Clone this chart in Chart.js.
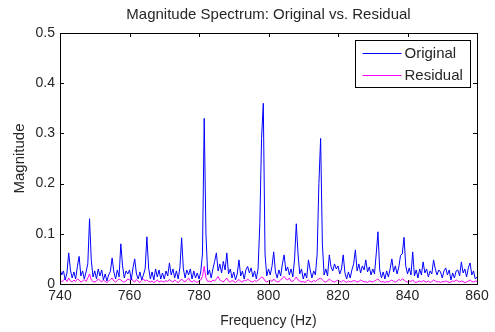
<!DOCTYPE html>
<html>
<head>
<meta charset="utf-8">
<script src="https://cdn.jsdelivr.net/npm/chart.js@4"></script>
<style>
  html, body { margin: 0; padding: 0; background: #fff; }
  #wrap { width: 495px; height: 332px; }
</style>
</head>
<body>
<div id="wrap"><canvas id="spectrum" width="495" height="332"></canvas></div>
<script>
// frequency bins (Hz), 0.5 Hz apart
let freqStart = 740
let freqStep = 0.5
let xTicks = [740, 760, 780, 800, 820, 840, 860]
let yTicks = [0, 0.1, 0.2, 0.3, 0.4, 0.5]
let seriesNames = ["Original", "Residual"]

// magnitude of original signal, one row = 5 Hz
let original = [
  0.030, 0.018, 0.026, 0.008, 0.022, 0.062, 0.028, 0.012, 0.024, 0.010,
  0.035, 0.055, 0.016, 0.026, 0.010, 0.024, 0.040, 0.130, 0.048, 0.014,
  0.026, 0.010, 0.030, 0.016, 0.028, 0.008, 0.020, 0.006, 0.018, 0.025,
  0.052, 0.024, 0.010, 0.028, 0.014, 0.080, 0.036, 0.012, 0.026, 0.020,
  0.028, 0.008, 0.032, 0.050, 0.020, 0.010, 0.024, 0.008, 0.018, 0.030,
  0.094, 0.032, 0.010, 0.024, 0.008, 0.030, 0.014, 0.028, 0.010, 0.022,
  0.010, 0.026, 0.016, 0.042, 0.018, 0.030, 0.012, 0.026, 0.010, 0.032,
  0.092, 0.030, 0.012, 0.028, 0.018, 0.030, 0.010, 0.026, 0.012, 0.022,
  0.010, 0.024, 0.060, 0.330, 0.100, 0.018, 0.028, 0.012, 0.030, 0.045,
  0.062, 0.026, 0.040, 0.022, 0.045, 0.028, 0.062, 0.020, 0.030, 0.012,
  0.024, 0.008, 0.020, 0.048, 0.016, 0.026, 0.010, 0.028, 0.035, 0.022,
  0.032, 0.014, 0.026, 0.010, 0.030, 0.120, 0.290, 0.360, 0.060, 0.016,
  0.030, 0.018, 0.035, 0.064, 0.024, 0.012, 0.028, 0.016, 0.040, 0.058,
  0.026, 0.034, 0.018, 0.030, 0.014, 0.050, 0.120, 0.060, 0.020, 0.030,
  0.010, 0.022, 0.012, 0.048, 0.028, 0.012, 0.026, 0.018, 0.060, 0.200,
  0.290, 0.080, 0.018, 0.030, 0.016, 0.058, 0.034, 0.026, 0.040, 0.030,
  0.036, 0.020, 0.030, 0.058, 0.022, 0.010, 0.024, 0.012, 0.028, 0.040,
  0.068, 0.026, 0.040, 0.022, 0.036, 0.028, 0.048, 0.024, 0.034, 0.018,
  0.030, 0.020, 0.060, 0.104, 0.028, 0.012, 0.024, 0.010, 0.026, 0.014,
  0.030, 0.050, 0.024, 0.036, 0.020, 0.034, 0.057, 0.060, 0.093, 0.036,
  0.020, 0.032, 0.018, 0.064, 0.016, 0.028, 0.012, 0.030, 0.018, 0.044,
  0.022, 0.030, 0.014, 0.026, 0.020, 0.048, 0.030, 0.018, 0.028, 0.024,
  0.012, 0.026, 0.032, 0.018, 0.028, 0.008, 0.022, 0.012, 0.026, 0.028,
  0.016, 0.044, 0.022, 0.030, 0.014, 0.032, 0.042, 0.018, 0.026, 0.010,
  0.014
]

// magnitude of residual
let residual = [
  0.006, 0.004, 0.008, 0.010, 0.005, 0.012, 0.006, 0.004, 0.008, 0.005,
  0.010, 0.008, 0.004, 0.006, 0.009, 0.005, 0.012, 0.020, 0.008, 0.005,
  0.004, 0.006, 0.010, 0.007, 0.004, 0.008, 0.005, 0.003, 0.006, 0.009,
  0.012, 0.006, 0.004, 0.007, 0.010, 0.008, 0.005, 0.004, 0.006, 0.010,
  0.008, 0.012, 0.006, 0.004, 0.009, 0.005, 0.003, 0.007, 0.010, 0.006,
  0.008, 0.005, 0.004, 0.006, 0.003, 0.005, 0.008, 0.004, 0.006, 0.005,
  0.004, 0.007, 0.005, 0.009, 0.006, 0.004, 0.008, 0.005, 0.003, 0.006,
  0.010, 0.006, 0.004, 0.008, 0.012, 0.006, 0.004, 0.007, 0.005, 0.003,
  0.006, 0.008, 0.015, 0.035, 0.012, 0.005, 0.006, 0.004, 0.008, 0.006,
  0.010, 0.015, 0.008, 0.006, 0.004, 0.008, 0.012, 0.006, 0.004, 0.007,
  0.005, 0.003, 0.006, 0.009, 0.005, 0.004, 0.008, 0.006, 0.010, 0.007,
  0.005, 0.004, 0.007, 0.005, 0.008, 0.010, 0.014, 0.012, 0.006, 0.004,
  0.006, 0.008, 0.005, 0.010, 0.006, 0.004, 0.005, 0.008, 0.012, 0.015,
  0.010, 0.008, 0.012, 0.006, 0.005, 0.009, 0.014, 0.008, 0.006, 0.004,
  0.005, 0.003, 0.006, 0.008, 0.005, 0.004, 0.007, 0.005, 0.008, 0.010,
  0.012, 0.008, 0.005, 0.004, 0.006, 0.010, 0.007, 0.005, 0.004, 0.006,
  0.008, 0.005, 0.004, 0.007, 0.005, 0.003, 0.006, 0.004, 0.005, 0.007,
  0.006, 0.004, 0.005, 0.008, 0.006, 0.004, 0.005, 0.003, 0.006, 0.005,
  0.004, 0.006, 0.008, 0.010, 0.006, 0.004, 0.005, 0.003, 0.005, 0.004,
  0.006, 0.008, 0.005, 0.004, 0.006, 0.009, 0.007, 0.010, 0.008, 0.005,
  0.004, 0.006, 0.005, 0.008, 0.004, 0.003, 0.005, 0.006, 0.004, 0.007,
  0.005, 0.004, 0.006, 0.003, 0.005, 0.008, 0.006, 0.004, 0.005, 0.003,
  0.005, 0.004, 0.006, 0.005, 0.003, 0.004, 0.006, 0.005, 0.008, 0.006,
  0.004, 0.006, 0.005, 0.003, 0.004, 0.006, 0.008, 0.005, 0.004, 0.006,
  0.005
]

let colors = ["#0000ff", "#ff00ff"]
let fontName = "'Liberation Sans', Arial, sans-serif"
let textColor = "#262626"

function toPoints(values){
    let pts = []
    for(let i = 0; i < values.length; i++)
    {
        pts.push({x: freqStart + i * freqStep, y: values[i]})
    }
    return pts
}

// matlab style box, inward ticks, title and legend
const matlabFrame = {
    id: "matlabFrame",
    afterDatasetsDraw(chart){
        const ctx = chart.ctx
        const a = chart.chartArea
        const xs = chart.scales.x
        const ys = chart.scales.y
        ctx.save()
        ctx.strokeStyle = "#000"
        ctx.lineWidth = 1
        ctx.beginPath()
        xTicks.forEach(function(t){
            let px = Math.round(xs.getPixelForValue(t)) + 0.5
            ctx.moveTo(px, a.bottom); ctx.lineTo(px, a.bottom - 4)
            ctx.moveTo(px, a.top); ctx.lineTo(px, a.top + 4)
        })
        yTicks.forEach(function(t){
            let py = Math.round(ys.getPixelForValue(t)) + 0.5
            ctx.moveTo(a.left, py); ctx.lineTo(a.left + 4, py)
            ctx.moveTo(a.right, py); ctx.lineTo(a.right - 4, py)
        })
        ctx.stroke()
        ctx.strokeRect(Math.round(a.left) + 0.5, Math.round(a.top) + 0.5,
                       Math.round(a.right - a.left), Math.round(a.bottom - a.top))

        // title
        ctx.fillStyle = textColor
        ctx.font = "15px " + fontName
        ctx.textAlign = "center"
        ctx.textBaseline = "middle"
        ctx.fillText("Magnitude Spectrum: Original vs. Residual", (a.left + a.right) / 2, 15)

        // legend
        let bx = 355.5, by = 40.5, bw = 115, bh = 47
        ctx.fillStyle = "#fff"
        ctx.fillRect(bx, by, bw, bh)
        ctx.strokeStyle = "#000"
        ctx.strokeRect(bx, by, bw, bh)
        ctx.font = "15px " + fontName
        ctx.textAlign = "left"
        for(let i = 0; i < seriesNames.length; i++)
        {
            let ly = Math.round(by + 12 + i * 22) + 0.5
            ctx.strokeStyle = colors[i]
            ctx.lineWidth = 1
            ctx.beginPath()
            ctx.moveTo(bx + 7, ly); ctx.lineTo(bx + 46, ly)
            ctx.stroke()
            ctx.fillStyle = textColor
            ctx.fillText(seriesNames[i], bx + 49, ly)
        }
        ctx.restore()
    }
}

const ctx = document.getElementById("spectrum").getContext("2d")
const spectrum = new Chart(ctx, {
    type: "line",
    data: {
        datasets: [
            { label: seriesNames[0], data: toPoints(original), borderColor: colors[0], borderWidth: 1, pointRadius: 0, tension: 0, fill: false },
            { label: seriesNames[1], data: toPoints(residual), borderColor: colors[1], borderWidth: 1, pointRadius: 0, tension: 0, fill: false }
        ]
    },
    options: {
        responsive: false,
        animation: false,
        devicePixelRatio: 1,
        layout: { padding: { top: 33, right: 18, left: 0, bottom: 0 } },
        plugins: { legend: { display: false }, title: { display: false }, tooltip: { enabled: false } },
        scales: {
            x: {
                type: "linear", min: 740, max: 860,
                grid: { display: false, drawTicks: false },
                border: { display: false },
                ticks: { stepSize: 20, padding: 4, color: textColor, font: { family: fontName, size: 14 }, maxRotation: 0 },
                title: { display: true, text: "Frequency (Hz)", color: textColor, font: { family: fontName, size: 14 }, padding: { top: 0, bottom: 2 } },
                afterFit: function(scale){ scale.height = 48 }
            },
            y: {
                min: 0, max: 0.5,
                grid: { display: false, drawTicks: false },
                border: { display: false },
                ticks: { stepSize: 0.1, padding: 5, color: textColor, font: { family: fontName, size: 14 } },
                title: { display: true, text: "Magnitude", color: textColor, font: { family: fontName, size: 15 }, padding: { top: 11, bottom: 0 } },
                afterFit: function(scale){ scale.width = 60 }
            }
        }
    },
    plugins: [matlabFrame]
})
</script>
</body>
</html>
